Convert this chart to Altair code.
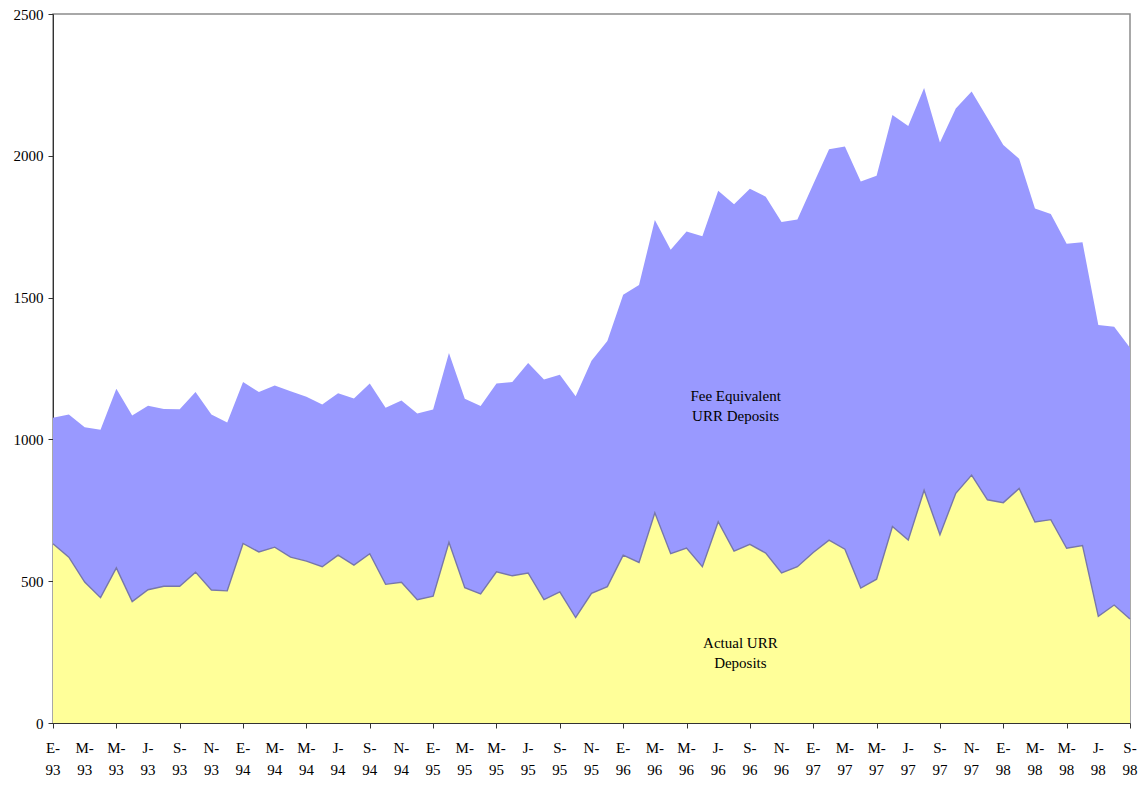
import altair as alt
import pandas as pd

# Month initials (Spanish) and years for Jan-1993 .. Sep-1998
month_letters = ["E", "F", "M", "A", "M", "J", "J", "A", "S", "O", "N", "D"]
years = ["93", "94", "95", "96", "97", "98"]
n_months = 69

# Total (Actual + Fee equivalent) URR deposits
total = [1076, 1088, 1043, 1034, 1179, 1084, 1119, 1107, 1106, 1167, 1088, 1060,
         1202, 1167, 1190, 1170, 1150, 1123, 1163, 1144, 1197, 1112, 1137, 1091,
         1105, 1305, 1143, 1118, 1197, 1202, 1269, 1211, 1228, 1152, 1277, 1347,
         1510, 1544, 1774, 1669, 1733, 1716, 1877, 1829, 1884, 1856, 1767, 1775,
         1900, 2023, 2033, 1909, 1930, 2144, 2105, 2239, 2047, 2167, 2227, 2133,
         2038, 1990, 1814, 1795, 1690, 1695, 1403, 1397, 1323]

# Actual URR deposits
actual = [632, 585, 497, 442, 547, 428, 470, 482, 482, 532, 469, 466,
          633, 603, 620, 585, 571, 551, 592, 557, 597, 489, 496, 435,
          447, 637, 477, 455, 533, 519, 529, 435, 462, 372, 457, 481,
          592, 566, 741, 597, 617, 551, 710, 606, 630, 599, 529, 551,
          601, 645, 613, 476, 507, 693, 645, 821, 664, 810, 874, 787,
          777, 827, 709, 717, 616, 626, 376, 416, 367]

tick_months = list(range(0, n_months, 2))
tick_labels = [[month_letters[i % 12] + "-", years[i // 12]] for i in tick_months]

df = pd.DataFrame({
    "m": list(range(n_months)),
    "total": total,
    "actual": actual,
})
ticks_df = pd.DataFrame({"m": tick_months, "lab": tick_labels})

ann_text = [["Fee Equivalent", "URR Deposits"], ["Actual URR", "Deposits"]]
ann_m = [43.1, 43.4]
ann_v = [1153, 282]
ann = pd.DataFrame({"m": ann_m, "v": ann_v, "t": ann_text})

FONT = "Liberation Serif"
PLOT_W, PLOT_H = 1077, 709

x_enc = alt.X(
    "m:Q",
    scale=alt.Scale(domain=[0, n_months - 1], nice=False, zero=False),
    axis=alt.Axis(
        values=tick_months,
        labels=False,
        title=None,
        grid=False,
        tickSize=5,
        domainColor="#333",
        tickColor="#333",
    ),
)
y_scale = alt.Scale(domain=[0, 2500], nice=False)
y_axis = alt.Axis(
    values=[0, 500, 1000, 1500, 2000, 2500],
    format="d",
    title=None,
    grid=False,
    tickSize=5,
    labelPadding=5,
    labelFont=FONT,
    labelFontSize=15,
    labelColor="#000",
    domainColor="#333",
    tickColor="#333",
)

base = alt.Chart(df)

blue = base.mark_area(color="#9999FF", opacity=1).encode(
    x=x_enc,
    y=alt.Y("total:Q", scale=y_scale, axis=y_axis),
)
yellow = base.mark_area(color="#FFFF99", opacity=1).encode(
    x="m:Q",
    y=alt.Y("actual:Q", scale=y_scale),
)
edge = base.mark_line(color="#7777AA", strokeWidth=1.4).encode(
    x="m:Q",
    y=alt.Y("actual:Q", scale=y_scale),
)
text = alt.Chart(ann).mark_text(
    font=FONT, fontSize=15, color="#000", lineHeight=20, baseline="middle", align="center"
).encode(
    x="m:Q",
    y=alt.Y("v:Q", scale=y_scale),
    text="t",
)
xlabels = alt.Chart(ticks_df).mark_text(
    font=FONT, fontSize=15, color="#000", lineHeight=22, baseline="middle", align="center"
).encode(
    x="m:Q",
    y=alt.value(PLOT_H + 25),
    text="lab",
)

chart = (
    alt.layer(blue, yellow, edge, text, xlabels)
    .properties(
        width=PLOT_W,
        height=PLOT_H,
        autosize=alt.AutoSizeParams(type="none"),
        padding={"left": 45, "top": 6, "right": 8, "bottom": 54},
        background="white",
    )
    .configure_view(stroke="#8c8c8c", strokeWidth=1.5)
)

chart.save("out.html", embed_options={"renderer": "svg", "actions": False})
